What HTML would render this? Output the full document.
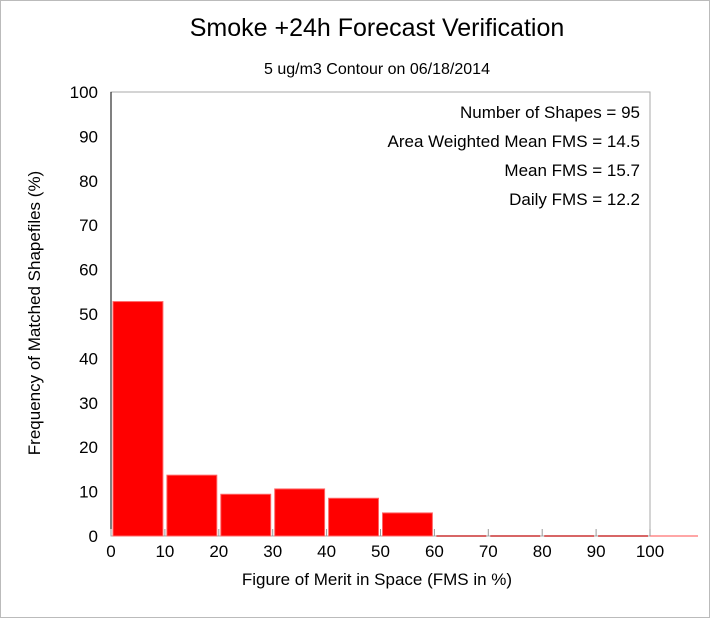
<!DOCTYPE html>
<html><head><meta charset="utf-8"><style>
body{margin:0;background:#fff;}
svg{display:block;font-family:"Liberation Sans",sans-serif;}
</style></head><body>
<svg id="c" width="710" height="618">
<rect x="0.5" y="0.5" width="709" height="617" fill="#fff" stroke="#bbb"/>
<text x="377" y="36" font-size="25" text-anchor="middle">Smoke +24h Forecast Verification</text>
<text x="377" y="74" font-size="16" text-anchor="middle">5 ug/m3 Contour on 06/18/2014</text>
<text x="40" y="313" font-size="17" text-anchor="middle" transform="rotate(-90 40 313)">Frequency of Matched Shapefiles (%)</text>
<text x="377" y="585" font-size="17" text-anchor="middle">Figure of Merit in Space (FMS in %)</text>
<g id="plot"></g>
<g font-size="17" text-anchor="end">
<text x="640" y="118">Number of Shapes = 95</text>
<text x="640" y="147">Area Weighted Mean FMS = 14.5</text>
<text x="640" y="176">Mean FMS = 15.7</text>
<text x="640" y="205">Daily FMS = 12.2</text>
</g>
</svg>
<script>
const binStarts=[0,10,20,30,40,50,60,70,80,90];
const freqs=[52.8,13.7,9.4,10.6,8.5,5.2,0,0,0,0];
const xTicks=[0,10,20,30,40,50,60,70,80,90,100];
const yTicks=[0,10,20,30,40,50,60,70,80,90,100];
const NS="http://www.w3.org/2000/svg";
const X0=111,X1=650,Y0=536,Y1=92;
const sx=v=>X0+(v/100)*(X1-X0);
const sy=v=>Y0-(v/100)*(Y0-Y1);
const g=document.getElementById('plot');
function mk(t,a){const e=document.createElementNS(NS,t);for(const k in a)e.setAttribute(k,a[k]);g.appendChild(e);return e;}
let f=mk('rect',{x:X0,y:Y1,width:X1-X0,height:Y0-Y1,fill:'none',stroke:'#aaa','stroke-width':1});


binStarts.forEach((b,i)=>{
  const x=sx(b)+2,w=sx(b+10)-sx(b)-4;
  if(freqs[i]>0){
    const r=mk('rect',{x:x,y:sy(freqs[i]),width:w,height:Y0-sy(freqs[i]),fill:'#ff0000',stroke:'#ff6666','stroke-width':1});
    
    
  } else {
    const r=mk('line',{x1:x,x2:x+w,y1:Y0,y2:Y0,stroke:'#cc3333','stroke-width':1.5});
    
    
  }
});
let ex=mk('line',{x1:X1,x2:698,y1:Y0,y2:Y0,stroke:'#ff8888','stroke-width':1.5});


let ya=mk('line',{x1:X0,x2:X0,y1:Y1,y2:Y0,stroke:'#000','stroke-width':1});


xTicks.forEach(t=>{
  const tk=mk('line',{x1:sx(t),x2:sx(t),y1:Y0,y2:Y0-7,stroke:'#999'});
  
  
  const tx=mk('text',{x:sx(t),y:Y0+21,'font-size':17,'text-anchor':'middle'});
  tx.textContent=t;
  
  
});
yTicks.forEach(t=>{
  const tx=mk('text',{x:X0-13,y:sy(t)+6,'font-size':17,'text-anchor':'end'});
  tx.textContent=t;
  
  
});
</script>
</body></html>
